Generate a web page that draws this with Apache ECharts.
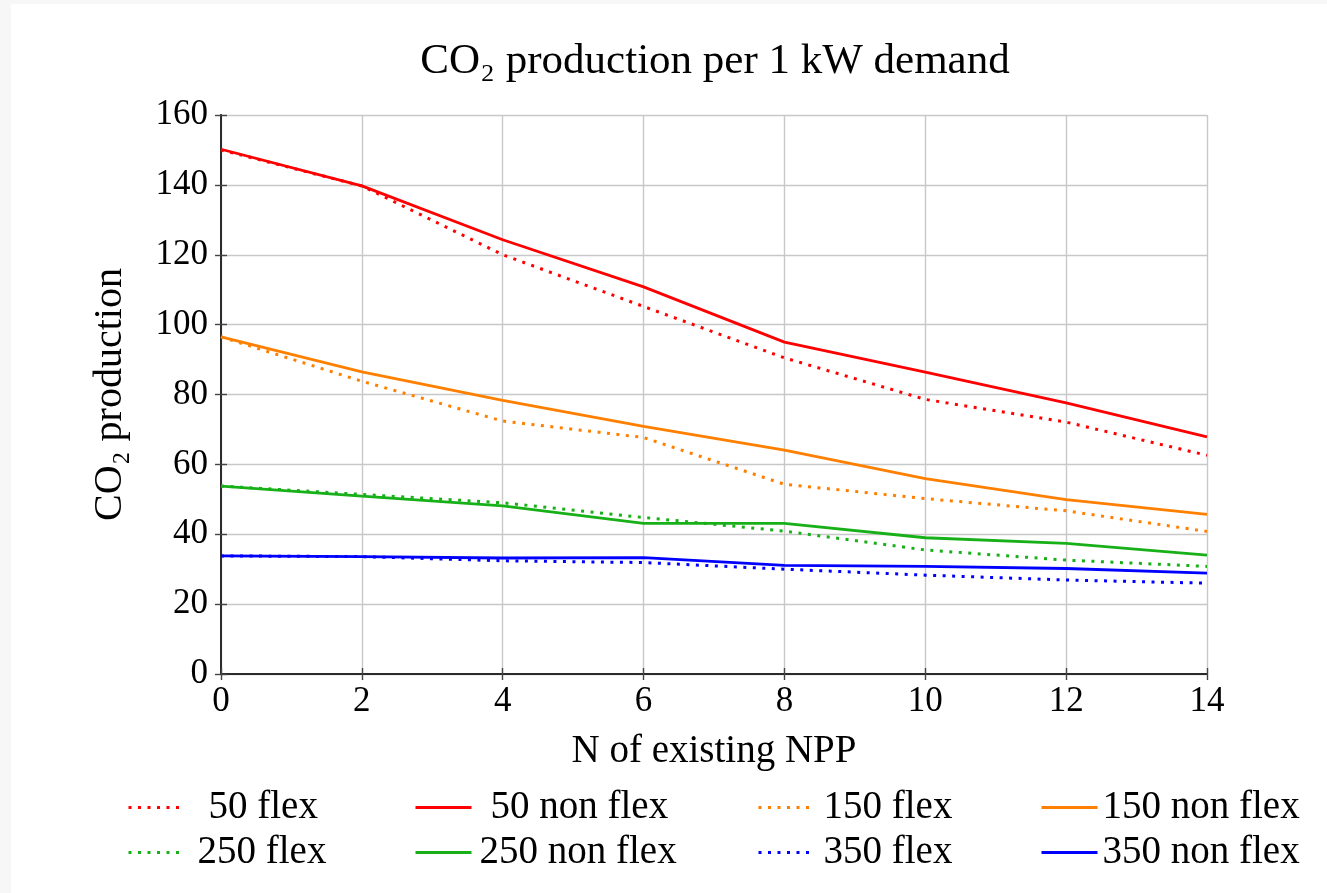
<!DOCTYPE html>
<html>
<head>
<meta charset="utf-8">
<script src="https://cdn.jsdelivr.net/npm/echarts@6/dist/echarts.min.js"></script>
<style>
  html, body { margin: 0; padding: 0; background: #f7f7f7; }
  #card { position: absolute; left: 11px; top: 4px; width: 1316px; height: 889px; background: #ffffff; }
  #chart { position: absolute; left: 0; top: 0; width: 1327px; height: 893px; }
</style>
</head>
<body>
<div id="card"></div>
<div id="chart"></div>
<script>
const xValues = [0, 2, 4, 6, 8, 10, 12, 14];
const flex50 = [150.0, 139.7, 120.0, 105.2, 90.5, 78.6, 72.1, 62.6];
const nonflex50 = [150.2, 139.7, 124.3, 110.8, 95.0, 86.4, 77.6, 67.9];
const flex150 = [96.5, 83.8, 72.4, 67.7, 54.3, 50.2, 46.7, 40.8];
const nonflex150 = [96.5, 86.5, 78.3, 70.9, 64.1, 55.9, 49.9, 45.7];
const flex250 = [53.8, 51.4, 49.0, 44.8, 40.9, 35.5, 32.6, 30.8];
const nonflex250 = [53.8, 50.9, 48.1, 43.1, 43.1, 39.0, 37.4, 34.0];
const flex350 = [33.8, 33.6, 32.4, 31.9, 30.0, 28.3, 26.9, 26.0];
const nonflex350 = [33.8, 33.6, 33.2, 33.3, 31.1, 30.8, 30.2, 28.9];

const seriesNames = ['50 flex', '50 non flex', '150 flex', '150 non flex', '250 flex', '250 non flex', '350 flex', '350 non flex'];
const seriesValues = [flex50, nonflex50, flex150, nonflex150, flex250, nonflex250, flex350, nonflex350];
const colors = ['#ff0000', '#ff0000', '#ff8000', '#ff8000', '#18b018', '#18b018', '#0000ff', '#0000ff'];

const FONT = 'Liberation Serif';
const chart = echarts.init(document.getElementById('chart'), null, { renderer: 'canvas' });

const series = seriesNames.map((name, i) => {
  const dotted = name.indexOf('non') < 0;
  return {
    name: name,
    type: 'line',
    xAxisIndex: 0,
    yAxisIndex: 0,
    symbol: 'none',
    z: dotted ? 3 : 2,
    color: colors[i],
    lineStyle: { color: colors[i], width: dotted ? 3 : 2.8, type: dotted ? [3, 6.5] : 'solid', cap: 'butt' },
    data: xValues.map((x, j) => [x, seriesValues[i][j]])
  };
});

// legend placement: [iconLeft, rowTop, extra gap]
const legendPos = [
  [127, 788, 19], [414, 788, 14], [757, 788, 4], [1040, 788, 0],
  [127, 833, 8], [414, 833, 3], [757, 833, 4], [1040, 833, 0]
];
const legends = seriesNames.map((name, i) => ({
  data: [name],
  left: legendPos[i][0],
  top: legendPos[i][1],
  itemWidth: 56,
  itemHeight: 14,
  padding: 0,
  selectedMode: false,
  itemStyle: { opacity: 0 },
  lineStyle: { width: 3 },
  textStyle: { fontFamily: FONT, fontSize: 39, color: '#000', padding: [0, 0, 0, legendPos[i][2]] }
}));

const axisLineStyle = { show: true, lineStyle: { color: '#2a2a2a', width: 1.8 } };
const tickStyle = { show: true, inside: true, length: 6, lineStyle: { color: '#444', width: 1.4 } };

chart.setOption({
  animation: false,
  backgroundColor: 'transparent',
  title: {
    text: 'CO\u2082 production per 1 kW demand',
    left: 715,
    textAlign: 'center',
    top: 40,
    padding: 0,
    textStyle: { fontFamily: FONT, fontSize: 43, fontWeight: 'normal', color: '#000' }
  },
  legend: legends,
  grid: { left: 221, top: 115, right: 120, bottom: 219, containLabel: false },
  xAxis: [
    {
      type: 'value', min: 0, max: 14, interval: 2, position: 'bottom',
      name: 'N of existing NPP', nameLocation: 'middle', nameGap: 58,
      nameTextStyle: { fontFamily: FONT, fontSize: 39, color: '#000' },
      axisLine: axisLineStyle, axisTick: tickStyle,
      axisLabel: { fontFamily: FONT, fontSize: 35, color: '#000', margin: 10 },
      splitLine: { show: true, lineStyle: { color: '#c8c8c8', width: 1.4 } }
    },
    {
      type: 'value', min: 0, max: 14, interval: 2, position: 'top',
      axisLine: axisLineStyle, axisTick: tickStyle,
      axisLabel: { show: false }, splitLine: { show: false }
    }
  ],
  yAxis: [
    {
      type: 'value', min: 0, max: 160, interval: 20, position: 'left',
      name: 'CO\u2082 production', nameLocation: 'middle', nameGap: 91, nameRotate: 90,
      nameTextStyle: { fontFamily: FONT, fontSize: 40, color: '#000' },
      axisLine: axisLineStyle, axisTick: tickStyle,
      axisLabel: { fontFamily: FONT, fontSize: 35, color: '#000', margin: 13 },
      splitLine: { show: true, lineStyle: { color: '#c8c8c8', width: 1.4 } }
    },
    {
      type: 'value', min: 0, max: 160, interval: 20, position: 'right',
      axisLine: axisLineStyle, axisTick: tickStyle,
      axisLabel: { show: false }, splitLine: { show: false }
    }
  ],
  series: series
});
</script>
</body>
</html>
